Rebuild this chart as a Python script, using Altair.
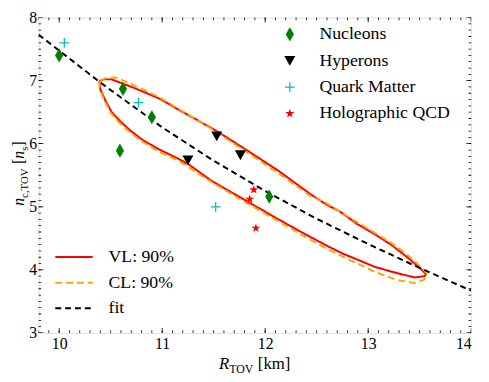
import altair as alt
import pandas as pd

# ---------------- data ----------------
# VL 90% contour (closed path: upper branch left->right, lower branch right->left)
vl_x = [10.39, 10.43, 10.51, 10.75, 10.98, 11.17, 11.39, 11.55, 11.80, 12.13, 12.44, 12.59,
        12.73, 12.90, 13.06, 13.23, 13.38, 13.48, 13.54, 13.56,
        13.55, 13.45, 13.23, 13.06, 12.90, 12.75, 12.59, 12.35, 12.13, 11.80, 11.48, 11.26,
        11.16, 10.97, 10.81, 10.69, 10.59, 10.51, 10.45, 10.40, 10.39]
vl_y = [6.99, 7.02, 7.02, 6.87, 6.71, 6.53, 6.33, 6.18, 5.92, 5.57, 5.20, 5.04,
        4.92, 4.72, 4.57, 4.39, 4.20, 4.06, 3.97, 3.93,
        3.90, 3.88, 3.97, 4.05, 4.16, 4.26, 4.39, 4.60, 4.80, 5.11, 5.41, 5.67,
        5.76, 5.91, 6.06, 6.21, 6.36, 6.50, 6.68, 6.86, 6.99]
# CL 90% contour
cl_x = [10.40, 10.45, 10.55, 10.75, 10.98, 11.17, 11.39, 11.55, 11.80, 12.13, 12.44, 12.59,
        12.90, 13.06, 13.23, 13.38, 13.51, 13.57,
        13.57, 13.54, 13.45, 13.28, 13.06, 12.78, 12.59, 12.35, 12.13, 11.80, 11.48, 11.16,
        10.96, 10.80, 10.68, 10.58, 10.50, 10.44, 10.39, 10.40]
cl_y = [7.00, 7.04, 7.05, 6.91, 6.73, 6.54, 6.33, 6.16, 5.89, 5.53, 5.17, 5.06,
        4.75, 4.59, 4.42, 4.24, 4.05, 3.94,
        3.90, 3.84, 3.79, 3.84, 3.97, 4.19, 4.34, 4.56, 4.77, 5.08, 5.39, 5.73,
        5.88, 6.04, 6.19, 6.34, 6.49, 6.68, 6.88, 7.00]
# fit curve
fit_x = [9.8, 10.4, 11.0, 11.5, 12.0, 12.5, 13.0, 13.5, 14.0]
fit_y = [7.73, 6.97, 6.26, 5.73, 5.25, 4.81, 4.41, 4.03, 3.67]

# model points
nuc_x = [10.00, 10.59, 10.62, 10.90, 12.04]
nuc_y = [7.40, 5.89, 6.87, 6.42, 5.16]
hyp_x = [11.53, 11.25, 11.76]
hyp_y = [6.12, 5.74, 5.82]
qm_x = [10.05, 10.77, 11.52]
qm_y = [7.60, 6.65, 5.00]
hol_x = [11.89, 11.85, 11.91]
hol_y = [5.27, 5.12, 4.66]

point_names = ["Nucleons", "Hyperons", "Quark Matter", "Holographic QCD"]
line_names = ["VL: 90%", "CL: 90%", "fit"]

x_major = [10, 11, 12, 13, 14]
y_major = [3, 4, 5, 6, 7, 8]
x_minor = [round(9.8 + 0.1 * i, 1) for i in range(43)]
y_minor = [round(3.0 + 0.1 * i, 1) for i in range(51)]

# ---------------- build tables ----------------
line_rows = []
for name, xs_, ys_ in [(line_names[0], vl_x, vl_y), (line_names[1], cl_x, cl_y), (line_names[2], fit_x, fit_y)]:
    for i, (a, b) in enumerate(zip(xs_, ys_)):
        line_rows.append({"R": a, "n": b, "curve": name, "idx": i})
lines_df = pd.DataFrame(line_rows)

pt_rows = []
for name, xs_, ys_ in [(point_names[0], nuc_x, nuc_y), (point_names[1], hyp_x, hyp_y),
                       (point_names[2], qm_x, qm_y), (point_names[3], hol_x, hol_y)]:
    for a, b in zip(xs_, ys_):
        pt_rows.append({"R": a, "n": b, "model": name})
pts_df = pd.DataFrame(pt_rows)

FONT = "Liberation Serif, Times New Roman, DejaVu Serif, serif"
W, H = 439, 320

xs = alt.Scale(domain=[9.8, 14], nice=False, zero=False)
ys = alt.Scale(domain=[3, 8], nice=False, zero=False)

x_axis = alt.Axis(values=x_major, format="d", ticks=False, tickSize=0, domain=False, grid=False,
                  title=None, labelFont=FONT, labelFontSize=16, labelColor="black", labelPadding=3)
y_axis = alt.Axis(values=y_major, format="d", ticks=False, tickSize=0, domain=False, grid=False,
                  title=None, labelFont=FONT, labelFontSize=16, labelColor="black", labelPadding=2)

line_legend = alt.Legend(title=None, orient="none", legendX=16, legendY=234, symbolType="stroke",
                         symbolSize=1444, symbolStrokeWidth=2, labelFont=FONT, labelFontSize=18,
                         labelColor="black", labelOffset=15, rowPadding=8, padding=0, clipHeight=18)
stroke_lines = alt.Stroke("curve:N", scale=alt.Scale(domain=line_names, range=["#ff0000", "#ffa500", "#000000"]),
                          legend=line_legend)
dash_lines = alt.StrokeDash("curve:N", scale=alt.Scale(domain=line_names, range=[[1, 0], [7, 4], [6, 4]]),
                            legend=line_legend)
width_lines = alt.StrokeWidth("curve:N", scale=alt.Scale(domain=line_names, range=[2.0, 2.0, 1.5]), legend=None)


def line_layer(name):
    return alt.Chart(lines_df).transform_filter(alt.datum.curve == name).mark_line(clip=True).encode(
        x=alt.X("R:Q", scale=xs, axis=x_axis),
        y=alt.Y("n:Q", scale=ys, axis=y_axis),
        stroke=stroke_lines, strokeDash=dash_lines, strokeWidth=width_lines,
        order=alt.Order("idx:Q"),
    )


diamond = "M 0 -0.9 L 0.52 0 L 0 0.9 L -0.52 0 Z"
tri = "M -0.7 -0.6 L 0.7 -0.6 L 0 0.65 Z"
plus = ("M -0.62 -0.08 L -0.08 -0.08 L -0.08 -0.62 L 0.08 -0.62 L 0.08 -0.08 L 0.62 -0.08 "
        "L 0.62 0.08 L 0.08 0.08 L 0.08 0.62 L -0.08 0.62 L -0.08 0.08 L -0.62 0.08 Z")
star = ("M 0 -0.6 L 0.141 -0.194 L 0.571 -0.185 L 0.228 0.074 L 0.353 0.485 L 0 0.24 "
        "L -0.353 0.485 L -0.228 0.074 L -0.571 -0.185 L -0.141 -0.194 Z")

pt_legend = alt.Legend(title=None, orient="none", legendX=246, legendY=8, symbolSize=256,
                       labelFont=FONT, labelFontSize=18, labelColor="black", labelOffset=21,
                       rowPadding=8.8, padding=0, symbolStrokeWidth=0)
points = alt.Chart(pts_df).mark_point(filled=True, size=256, opacity=1, clip=True, strokeWidth=0).encode(
    x=alt.X("R:Q", scale=xs, axis=x_axis),
    y=alt.Y("n:Q", scale=ys, axis=y_axis),
    fill=alt.Fill("model:N", scale=alt.Scale(domain=point_names,
                                             range=["#008000", "#000000", "#00bfbf", "#ff0000"]),
                  legend=pt_legend),
    shape=alt.Shape("model:N", scale=alt.Scale(domain=point_names, range=[diamond, tri, plus, star]),
                    legend=pt_legend),
)


def tick_layer(vals, horizontal_axis, datum_val, size):
    df = pd.DataFrame({"v": vals})
    if horizontal_axis:
        return alt.Chart(df).mark_tick(orient="vertical", size=size, thickness=0.8, color="black",
                                       clip=True, opacity=1).encode(
            x=alt.X("v:Q", scale=xs, axis=x_axis), y=alt.Y(datum=datum_val, type="quantitative", scale=ys))
    return alt.Chart(df).mark_tick(orient="horizontal", size=size, thickness=0.8, color="black",
                                   clip=True, opacity=1).encode(
        y=alt.Y("v:Q", scale=ys, axis=y_axis), x=alt.X(datum=datum_val, type="quantitative", scale=xs))


ticks = [
    tick_layer(x_major, True, 3, 10), tick_layer(x_major, True, 8, 10),
    tick_layer(x_minor, True, 3, 5.4), tick_layer(x_minor, True, 8, 5.4),
    tick_layer(y_major, False, 9.8, 10), tick_layer(y_major, False, 14, 10),
    tick_layer(y_minor, False, 9.8, 5.4), tick_layer(y_minor, False, 14, 5.4),
]

# axis titles composed of pieces (main text + subscripts)
dummy = pd.DataFrame({"a": [0]})
title_pieces = [
    # text, x, y, size, style, angle
    ("R", 183, 357, 17, "italic", 0),
    ("TOV", 193.5, 360.5, 12, "normal", 0),
    ("[km]", 222.5, 357, 17, "normal", 0),
    ("n", -14.5, 191, 16, "italic", 270),
    ("c,TOV", -11, 183, 11, "normal", 270),
    ("[", -14.5, 148.5, 16, "normal", 270),
    ("n", -14.5, 143.2, 16, "italic", 270),
    ("s", -11, 135.2, 11, "normal", 270),
    ("]", -14.5, 130.9, 16, "normal", 270),
]
title_layers = []
for t, px, py, fs, st, ang in title_pieces:
    title_layers.append(
        alt.Chart(dummy).mark_text(text=t, font=FONT, fontSize=fs, fontStyle=st, angle=ang,
                                   align="left", baseline="alphabetic", color="black").encode(
            x=alt.value(px), y=alt.value(py))
    )

chart = alt.layer(
    *ticks,
    line_layer("VL: 90%"), line_layer("CL: 90%"), line_layer("fit"),
    points,
    *title_layers,
).properties(
    width=W, height=H,
    padding={"left": 31, "top": 7, "right": 10, "bottom": 41},
    autosize=alt.AutoSizeParams(type="none"),
).configure_view(stroke="black", strokeWidth=1).configure(background="white")

chart.save("out.html", embed_options={"renderer": "svg", "actions": False})
